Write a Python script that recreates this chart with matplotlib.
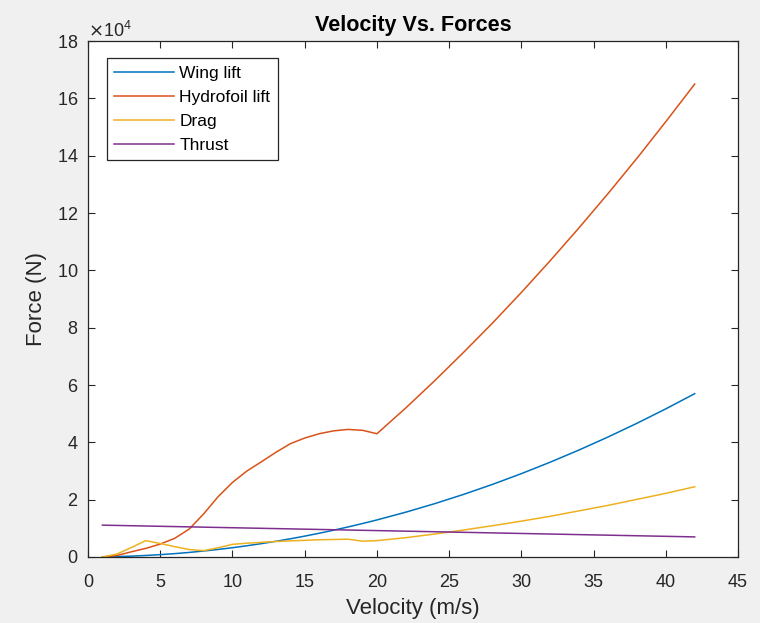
import matplotlib
matplotlib.use("Agg")
import matplotlib.pyplot as plt
from matplotlib.ticker import ScalarFormatter

plt.rcParams['font.family'] = ['Liberation Sans', 'DejaVu Sans']

# Velocity samples (m/s)
velocity = [1, 2, 3, 4, 5, 6, 7, 8, 9, 10, 11, 12, 13, 14, 15, 16, 17, 18, 19, 20,
            22, 24, 26, 28, 30, 32, 34, 36, 38, 40, 42]

# Forces (N)
wing_lift = [30, 130, 290, 520, 810, 1160, 1580, 2070, 2620, 3230, 3910, 4650, 5460,
             6330, 7270, 8270, 9330, 10470, 11660, 12920,
             15630, 18600, 21830, 25320, 29070, 33080, 37340, 41860, 46640, 51680, 56980]
hydrofoil_lift = [0, 500, 1800, 3000, 4500, 6500, 9700, 15000, 21000, 26000, 30000,
                  33200, 36500, 39500, 41500, 43000, 44000, 44500, 44200, 43000,
                  52000, 61500, 71400, 81600, 92300, 103400, 114900, 126800, 139100,
                  151900, 165000]
drag = [0, 1000, 3300, 5700, 4700, 3600, 2600, 2200, 3200, 4400, 4800, 5100, 5400,
        5600, 5800, 6000, 6100, 6200, 5500, 5700,
        6730, 8000, 9400, 10900, 12500, 14200, 16100, 18000, 20100, 22200, 24500]
thrust = [11100, 11000, 10900, 10800, 10700, 10600, 10500, 10400, 10300, 10200, 10100,
          10000, 9900, 9800, 9700, 9600, 9500, 9400, 9300, 9200,
          9000, 8800, 8600, 8400, 8200, 8000, 7800, 7600, 7400, 7200, 7000]

series = [("Wing lift", wing_lift, "#0072BD"),
          ("Hydrofoil lift", hydrofoil_lift, "#D95319"),
          ("Drag", drag, "#EDB120"),
          ("Thrust", thrust, "#7E2F8E")]

x_ticks = [0, 5, 10, 15, 20, 25, 30, 35, 40, 45]
y_ticks = [0, 20000, 40000, 60000, 80000, 100000, 120000, 140000, 160000, 180000]

ink = "#262626"
fig = plt.figure(figsize=(7.6, 6.23), dpi=100, facecolor="#f0f0f0")
ax = fig.add_axes([0.1158, 0.106, 0.8553, 0.828])
ax.set_facecolor("white")

for name, vals, col in series:
    ax.plot(velocity, vals, color=col, lw=1.1, label=name)

ax.set_xlim(0, 45)
ax.set_ylim(0, 180000)
ax.set_xticks(x_ticks)
ax.set_yticks(y_ticks)

# fixed 10^4 exponent on the force axis
fmt = ScalarFormatter(useMathText=True)
fmt.set_powerlimits((4, 4))
ax.yaxis.set_major_formatter(fmt)
ax.yaxis.get_offset_text().set_fontsize(13)
ax.yaxis.get_offset_text().set_color(ink)

ax.tick_params(direction="in", top=True, right=True, length=5, width=0.8,
               labelsize=13, colors=ink)
ax.tick_params(axis="x", pad=12)
ax.tick_params(axis="y", pad=7)
for sp in ax.spines.values():
    sp.set_color(ink)
    sp.set_linewidth(0.9)

ax.set_title("Velocity Vs. Forces", fontsize=15.5, fontweight="bold", color="black", pad=7)
ax.set_xlabel("Velocity (m/s)", fontsize=16, color=ink, labelpad=5)
ax.set_ylabel("Force (N)", fontsize=16, color=ink, labelpad=7)

leg = ax.legend(loc="upper left", bbox_to_anchor=(0.029, 0.967), fontsize=12.5,
                handlelength=3.45, handletextpad=0.3, borderpad=0.42, labelspacing=0.52,
                fancybox=False, framealpha=1, edgecolor=ink, borderaxespad=0)
leg.get_frame().set_linewidth(0.9)

fig.savefig("out.png", dpi=100, facecolor=fig.get_facecolor())
